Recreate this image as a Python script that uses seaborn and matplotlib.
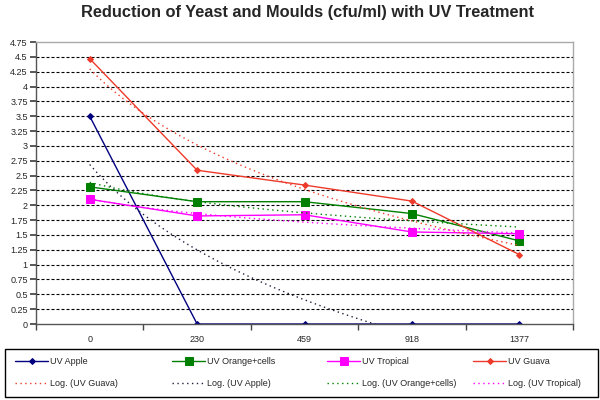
import numpy as np
import pandas as pd
import matplotlib
matplotlib.use("Agg")
import matplotlib.pyplot as plt
from matplotlib.patches import Rectangle
import seaborn as sns

# ---- data ----
doses = ["0", "230", "459", "918", "1377"]
uv_apple = [3.5, 0.0, 0.0, 0.0, 0.0]
uv_orange = [2.31, 2.06, 2.06, 1.86, 1.40]
uv_tropical = [2.10, 1.82, 1.84, 1.55, 1.52]
uv_guava = [4.47, 2.59, 2.34, 2.07, 1.17]
y_ticks = [i * 0.25 for i in range(20)]

sns.set_theme(style="white")
plt.rcParams['font.family'] = ['Liberation Sans', 'DejaVu Sans']

fig = plt.figure(figsize=(6, 4), dpi=100)
ax = fig.add_axes([0.06, 0.19, 0.895, 0.705])

pos = np.arange(len(doses))
series = [
    ("UV Apple", uv_apple, "#000080", "D", 3),
    ("UV Orange+cells", uv_orange, "#008000", "s", 5.2),
    ("UV Tropical", uv_tropical, "#FF00FF", "s", 5.2),
    ("UV Guava", uv_guava, "#EE3A2A", "D", 3),
]
handles = {}
for name, vals, col, mk, ms in series:
    df = pd.DataFrame({"x": pos, "y": vals})
    sns.lineplot(data=df, x="x", y="y", ax=ax, color=col, marker=mk,
                 markersize=ms, markeredgecolor=col, linewidth=1.0, label=name,
                 legend=False)
    handles[name] = ax.lines[-1]

# logarithmic trendlines (Excel style: y = a ln(k) + b, k = 1..n)
xs = np.linspace(0, len(doses) - 1, 200)
trend_cols = {"UV Guava": "#EE3A2A", "UV Apple": "#202040",
              "UV Orange+cells": "#008000", "UV Tropical": "#FF00FF"}
data_map = {n: v for n, v, *_ in series}
for name in ["UV Guava", "UV Apple", "UV Orange+cells", "UV Tropical"]:
    vals = np.array(data_map[name])
    a, b = np.polyfit(np.log(pos + 1), vals, 1)
    yy = a * np.log(xs + 1) + b
    df = pd.DataFrame({"x": xs, "y": yy})
    sns.lineplot(data=df, x="x", y="y", ax=ax, color=trend_cols[name],
                 linewidth=1.0, linestyle=(0, (1, 2.5)), legend=False)
    handles["Log. (" + name + ")"] = ax.lines[-1]

ax.set_xlim(-0.5, len(doses) - 0.5)
ax.set_ylim(0, 4.75)
ax.set_yticks(y_ticks)
ax.set_yticklabels([("%g" % t) for t in y_ticks], fontsize=6.5)
ax.set_xticks(pos)
ax.set_xticklabels(doses, fontsize=6.5)
ax.set_xticks(np.arange(-0.5, len(doses), 1.0), minor=True)
ax.tick_params(axis="x", which="major", length=0, pad=8)
ax.tick_params(axis="x", which="minor", length=4, direction="out", color="#444444", bottom=True)
ax.tick_params(axis="y", length=4, direction="out", color="#444444", left=True, pad=2)
ax.set_xlabel("")
ax.set_ylabel("")

for yv in y_ticks[1:-1]:
    ax.axhline(yv, color="black", linewidth=0.8, linestyle=(0, (2.7, 1.8)), zorder=0)

for s in ["left", "bottom"]:
    ax.spines[s].set_color("#555555")
    ax.spines[s].set_linewidth(1.0)
for s in ["top", "right"]:
    ax.spines[s].set_color("#aaaaaa")
    ax.spines[s].set_linewidth(1.0)

fig.suptitle("Reduction of Yeast and Moulds (cfu/ml) with UV Treatment",
             fontsize=11.8, fontweight="bold", x=0.512, y=0.988)

# legend: four columns placed like the original, with one outer frame
columns = [["UV Apple", "Log. (UV Guava)"],
           ["UV Orange+cells", "Log. (UV Apple)"],
           ["UV Tropical", "Log. (UV Orange+cells)"],
           ["UV Guava", "Log. (UV Tropical)"]]
col_x = [15, 172, 327, 473]
for cx, labs in zip(col_x, columns):
    lg = fig.legend([handles[k] for k in labs], labs, loc="center left",
                    bbox_to_anchor=(cx / 600, 0.068), fontsize=6.5,
                    frameon=False, handlelength=3.7, handletextpad=0.15,
                    borderpad=0, borderaxespad=0, labelspacing=1.45)
fig.add_artist(Rectangle((5 / 600, 3 / 400), 593 / 600, 48 / 400,
                         transform=fig.transFigure, fill=False,
                         edgecolor="black", linewidth=1.0))

fig.savefig("out.png", dpi=100, facecolor="white")
